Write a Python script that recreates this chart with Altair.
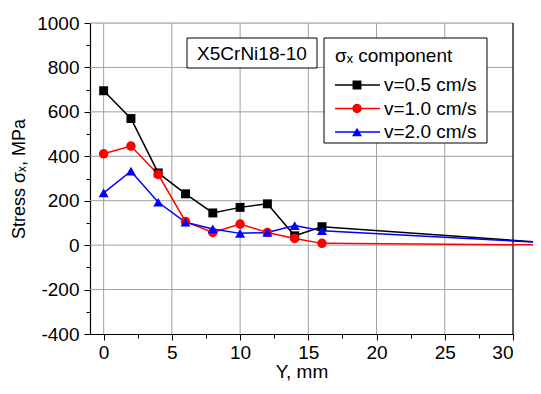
import altair as alt
import pandas as pd

# ---- data ----
y_mm = [0, 2, 4, 6, 8, 10, 12, 14, 16, 35]
s_05 = [695, 570, 325, 231, 145, 170, 186, 42, 83, 0]
s_10 = [411, 446, 318, 106, 57, 95, 57, 30, 8, 0]
s_20 = [235, 333, 193, 103, 73, 53, 57, 88, 65, 2]
series = ["v=0.5 cm/s", "v=1.0 cm/s", "v=2.0 cm/s"]
colors = ["#000000", "#ff0000", "#0000ff"]
shapes = ["square", "circle", "triangle-up"]
sizes = [80, 100, 115]
x_ticks = [0, 2.5, 5, 7.5, 10, 12.5, 15, 17.5, 20, 22.5, 25, 27.5, 30]
y_ticks = [-400, -300, -200, -100, 0, 100, 200, 300, 400, 500, 600, 700, 800, 900, 1000]
grid_x = [0, 5, 10, 15, 20, 25]
grid_y = [-200, 0, 200, 400, 600, 800, 1000]
x_domain = [-1, 30]
y_domain = [-400, 1000]
annotation = "X5CrNi18-10"
legend_title = "σₓ component"
x_title = "Y, mm"
y_title = "Stress σₓ, MPa"

rows = []
for name, vals in zip(series, [s_05, s_10, s_20]):
    for xv, sv in zip(y_mm, vals):
        rows.append({"Y": xv, "S": sv, "series": name})
df = pd.DataFrame(rows)

W, H = 423, 311
FONT = "Liberation Sans"
GRID = "#a0a0a0"
color_scale = alt.Scale(domain=series, range=colors)
shape_scale = alt.Scale(domain=series, range=shapes)
size_scale = alt.Scale(domain=series, range=sizes)
x_scale = alt.Scale(domain=x_domain, nice=False, zero=False)
y_scale = alt.Scale(domain=y_domain, nice=False, zero=False)

x_axis = alt.Axis(
    values=x_ticks, title=x_title, orient="bottom", grid=False,
    labelExpr="datum.value % 5 === 0 ? '' + datum.value : ''",
    tickSize={"condition": {"test": "datum.value % 5 === 0", "value": 6}, "value": 4},
    domainColor="black", domainWidth=1.2, tickColor="black", tickWidth=1,
    labelFont=FONT, labelFontSize=19, labelColor="black", labelPadding=3,
    titleFont=FONT, titleFontSize=19, titleFontWeight="normal", titleColor="black", titlePadding=0,
)
y_axis = alt.Axis(
    values=y_ticks, title=y_title, orient="left", grid=False,
    labelExpr="datum.value % 200 === 0 ? '' + datum.value : ''",
    tickSize={"condition": {"test": "datum.value % 200 === 0", "value": 6}, "value": 4},
    domainColor="black", domainWidth=1.2, tickColor="black", tickWidth=1,
    labelFont=FONT, labelFontSize=19, labelColor="black", labelPadding=5,
    titleFont=FONT, titleFontSize=18, titleFontWeight="normal", titleColor="black", titlePadding=8,
)

one = pd.DataFrame({"a": [0]})

# grid lines, placed with the same linear mapping as the axes' scales
grid_layers = []
for g in grid_x:
    px = (g - x_domain[0]) / (x_domain[1] - x_domain[0]) * W
    grid_layers.append(alt.Chart(one).mark_rule(color=GRID, strokeWidth=1).encode(
        x=alt.value(px), y=alt.value(0), y2=alt.value(H)))
for g in grid_y:
    py = (y_domain[1] - g) / (y_domain[1] - y_domain[0]) * H
    grid_layers.append(alt.Chart(one).mark_rule(color=GRID, strokeWidth=1).encode(
        y=alt.value(py), x=alt.value(0), x2=alt.value(W)))

# right frame line at the end of the x axis
right_frame = alt.Chart(one).mark_rule(color="black", strokeWidth=1.2).encode(
    x=alt.value(W), y=alt.value(0), y2=alt.value(H)
)

lines = alt.Chart(df).mark_line(strokeWidth=1.5, clip=False).encode(
    x=alt.X("Y:Q", scale=x_scale, axis=x_axis),
    y=alt.Y("S:Q", scale=y_scale, axis=y_axis),
    color=alt.Color("series:N", scale=color_scale, legend=None),
)
points = alt.Chart(df).transform_filter("datum.Y <= 30").mark_point(
    filled=True, opacity=1, strokeWidth=0
).encode(
    x=alt.X("Y:Q", scale=x_scale, axis=x_axis),
    y=alt.Y("S:Q", scale=y_scale, axis=y_axis),
    color=alt.Color("series:N", scale=color_scale, legend=None),
    shape=alt.Shape("series:N", scale=shape_scale, legend=None),
    size=alt.Size("series:N", scale=size_scale, legend=None),
)

ann_box = alt.Chart(one).mark_rect(fill="white", stroke="black", strokeWidth=1).encode(
    x=alt.value(97), x2=alt.value(227), y=alt.value(15), y2=alt.value(45)
)
ann_text = alt.Chart(one).mark_text(
    text=annotation, font=FONT, fontSize=19, align="center", baseline="middle", color="black"
).encode(x=alt.value(162), y=alt.value(31))

leg_box = alt.Chart(one).mark_rect(fill="white", stroke="black", strokeWidth=1).encode(
    x=alt.value(234), x2=alt.value(397), y=alt.value(15), y2=alt.value(120)
)
leg_title = alt.Chart(one).mark_text(
    text=legend_title, font=FONT, fontSize=19, align="left", baseline="middle", color="black"
).encode(x=alt.value(245), y=alt.value(33))

layers = grid_layers + [right_frame, lines, points, ann_box, ann_text, leg_box, leg_title]
leg_df = pd.DataFrame({"series": series})
for i, name in enumerate(series):
    yy = 62 + 23.5 * i
    sub = alt.Chart(leg_df).transform_filter(alt.datum.series == name)
    layers.append(sub.mark_rule(strokeWidth=1.5).encode(
        x=alt.value(245), x2=alt.value(290), y=alt.value(yy),
        color=alt.Color("series:N", scale=color_scale, legend=None)))
    layers.append(sub.mark_point(filled=True, opacity=1, strokeWidth=0).encode(
        x=alt.value(267), y=alt.value(yy),
        color=alt.Color("series:N", scale=color_scale, legend=None),
        shape=alt.Shape("series:N", scale=shape_scale, legend=None),
        size=alt.Size("series:N", scale=size_scale, legend=None)))
    layers.append(sub.mark_text(font=FONT, fontSize=19, align="left", baseline="middle", color="black").encode(
        x=alt.value(294), y=alt.value(yy), text="series:N"))

chart = alt.layer(*layers).properties(
    width=W, height=H,
    autosize=alt.AutoSizeParams(type="none"),
    padding={"left": 82, "top": 15, "right": 20, "bottom": 52},
).configure_view(stroke=None).configure(font=FONT)

chart.save("out.html", embed_options={"renderer": "svg", "actions": False})
